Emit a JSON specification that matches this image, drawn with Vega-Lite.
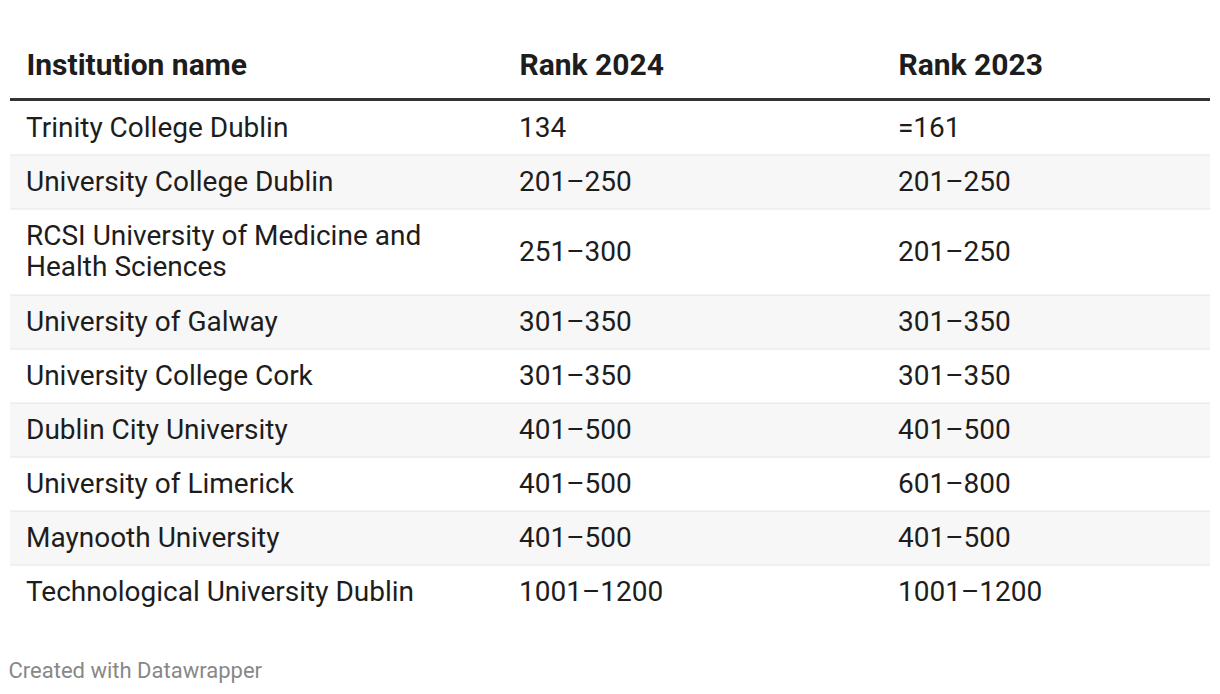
{
  "$schema": "https://vega.github.io/schema/vega-lite/v6.json",
  "width": 1200,
  "height": 540,
  "autosize": "none",
  "padding": {"top": 101, "left": 10, "right": 10, "bottom": 53},
  "background": "white",
  "config": {"view": {"stroke": null}, "font": "Roboto"},
  "title": {
    "text": "Created with Datawrapper",
    "orient": "bottom",
    "anchor": "start",
    "font": "Roboto",
    "fontSize": 22,
    "fontWeight": "normal",
    "color": "#888888",
    "offset": 20
  },
  "data": {
    "values": [
      {"institution": "Trinity College Dublin", "rank2024": "134", "rank2023": "=161"},
      {"institution": "University College Dublin", "rank2024": "201–250", "rank2023": "201–250"},
      {"institution": "RCSI University of Medicine and\nHealth Sciences", "rank2024": "251–300", "rank2023": "201–250"},
      {"institution": "University of Galway", "rank2024": "301–350", "rank2023": "301–350"},
      {"institution": "University College Cork", "rank2024": "301–350", "rank2023": "301–350"},
      {"institution": "Dublin City University", "rank2024": "401–500", "rank2023": "401–500"},
      {"institution": "University of Limerick", "rank2024": "401–500", "rank2023": "601–800"},
      {"institution": "Maynooth University", "rank2024": "401–500", "rank2023": "401–500"},
      {"institution": "Technological University Dublin", "rank2024": "1001–1200", "rank2023": "1001–1200"}
    ]
  },
  "transform": [
    {"window": [{"op": "row_number", "as": "row"}]},
    {"calculate": "indexof(datum.institution, '\\n') >= 0 ? 1.593 : 1", "as": "h"},
    {"window": [{"op": "sum", "field": "h", "as": "y1"}], "frame": [null, 0]},
    {"calculate": "datum.y1 - datum.h", "as": "y0"},
    {"calculate": "datum.y0 + 0.5", "as": "yfirst"},
    {"calculate": "datum.y0 + datum.h / 2", "as": "ymid"}
  ],
  "layer": [
    {
      "transform": [{"filter": "datum.row % 2 == 0"}],
      "mark": {"type": "rect", "color": "#f7f7f7", "x": 0, "x2": {"expr": "width"}},
      "encoding": {
        "y": {"field": "y0", "type": "quantitative", "scale": {"domain": [0, 10], "reverse": true, "nice": false, "zero": false}, "axis": null},
        "y2": {"field": "y1"}
      }
    },
    {
      "transform": [{"filter": "datum.row < 9"}],
      "mark": {"type": "rule", "color": "#e5e5e5", "strokeWidth": 1},
      "encoding": {
        "y": {"field": "y1", "type": "quantitative"}
      }
    },
    {
      "transform": [{"filter": "datum.row == 1"}],
      "mark": {"type": "rule", "color": "#333333", "strokeWidth": 3, "yOffset": -1.5},
      "encoding": {
        "y": {"field": "y0", "type": "quantitative"}
      }
    },
    {
      "transform": [
        {"fold": ["institution", "rank2024", "rank2023"], "as": ["col", "value"]},
        {"calculate": "indexof(['institution', 'rank2024', 'rank2023'], datum.col)", "as": "colIndex"},
        {"calculate": "datum.colIndex == 0 ? datum.yfirst : datum.ymid", "as": "ytext"}
      ],
      "mark": {"type": "text", "align": "left", "baseline": "middle", "fontSize": 28, "color": "#1d1d1d", "lineBreak": "\n", "lineHeight": 31, "font": "Roboto", "dy": 1},
      "encoding": {
        "x": {
          "field": "colIndex",
          "type": "quantitative",
          "scale": {"domain": [0, 1, 2], "range": [16, 509, 888], "nice": false, "zero": false},
          "axis": {
            "orient": "top",
            "title": null,
            "values": [0, 1, 2],
            "domain": false,
            "ticks": false,
            "grid": false,
            "labelAlign": "left",
            "labelBaseline": "middle",
            "labelFont": "Roboto",
            "labelFontSize": 30,
            "labelFontWeight": "bold",
            "labelColor": "#1d1d1d",
            "labelPadding": 36,
            "labelLimit": 0,
            "labelFlush": false,
            "labelOverlap": false,
            "labelExpr": "['Institution name', 'Rank 2024', 'Rank 2023'][datum.value]"
          }
        },
        "y": {"field": "ytext", "type": "quantitative"},
        "text": {"field": "value"}
      }
    }
  ]
}
